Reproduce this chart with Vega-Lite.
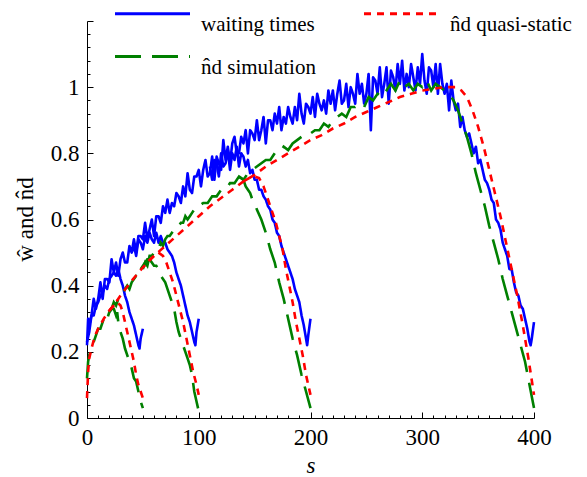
{
"$schema":"https://vega.github.io/schema/vega-lite/v6.json",
"width":447,"height":397,"autosize":"none",
"padding":{"left":87,"top":21,"right":53,"bottom":59},
"background":"white",
"config":{"view":{"stroke":null},
"axis":{"grid":false,"domainColor":"black","domainWidth":1,"tickColor":"black","tickWidth":1,"labelColor":"black","labelFont":"Liberation Serif","labelFontSize":23,"titleFont":"Liberation Serif","titleFontSize":23,"titleColor":"black","titleFontWeight":"normal","labelOverlap":false,"labelBound":false,"labelFlush":false},
"legend":{"orient":"none","legendX":49,"legendY":-24,"columns":2,"symbolType":"M-2.5,0H2.5","symbolSize":900,"symbolStrokeWidth":3,"labelFont":"Liberation Serif","labelFontSize":21,"labelColor":"black","labelOffset":32,"labelBaseline":"top","columnPadding":42,"rowPadding":5,"labelLimit":300,"padding":0}},
"datasets":{
"blue":[
{"s":0,"v":0.23,"r":400},{"s":2,"v":0.26,"r":400},{"s":4,"v":0.31,"r":400},{"s":6,"v":0.36,"r":400},{"s":8,"v":0.33,"r":400},{"s":10,"v":0.36,"r":400},{"s":12,"v":0.41,"r":400},{"s":14,"v":0.36,"r":400},{"s":16,"v":0.42,"r":400},{"s":18,"v":0.42,"r":400},{"s":20,"v":0.41,"r":400},{"s":22,"v":0.48,"r":400},{"s":24,"v":0.44,"r":400},{"s":26,"v":0.47,"r":400},{"s":28,"v":0.43,"r":400},{"s":30,"v":0.48,"r":400},{"s":32,"v":0.50,"r":400},{"s":34,"v":0.47,"r":400},{"s":36,"v":0.47,"r":400},{"s":38,"v":0.52,"r":400},{"s":40,"v":0.50,"r":400},{"s":42,"v":0.54,"r":400},{"s":44,"v":0.50,"r":400},{"s":46,"v":0.55,"r":400},{"s":48,"v":0.55,"r":400},{"s":50,"v":0.54,"r":400},{"s":52,"v":0.59,"r":400},{"s":54,"v":0.54,"r":400},{"s":56,"v":0.57,"r":400},{"s":58,"v":0.60,"r":400},{"s":60,"v":0.55,"r":400},{"s":62,"v":0.61,"r":400},{"s":64,"v":0.61,"r":400},{"s":66,"v":0.59,"r":400},{"s":68,"v":0.64,"r":400},{"s":70,"v":0.62,"r":400},{"s":72,"v":0.66,"r":400},{"s":74,"v":0.62,"r":400},{"s":76,"v":0.65,"r":400},{"s":78,"v":0.64,"r":400},{"s":80,"v":0.68,"r":400},{"s":82,"v":0.67,"r":400},{"s":84,"v":0.65,"r":400},{"s":86,"v":0.70,"r":400},{"s":88,"v":0.67,"r":400},{"s":90,"v":0.74,"r":400},{"s":92,"v":0.69,"r":400},{"s":94,"v":0.68,"r":400},{"s":96,"v":0.73,"r":400},{"s":98,"v":0.73,"r":400},{"s":100,"v":0.75,"r":400},{"s":102,"v":0.70,"r":400},{"s":104,"v":0.75,"r":400},{"s":106,"v":0.78,"r":400},{"s":108,"v":0.73,"r":400},{"s":110,"v":0.74,"r":400},{"s":112,"v":0.79,"r":400},{"s":114,"v":0.72,"r":400},{"s":116,"v":0.79,"r":400},{"s":118,"v":0.77,"r":400},{"s":120,"v":0.75,"r":400},{"s":122,"v":0.84,"r":400},{"s":124,"v":0.78,"r":400},{"s":126,"v":0.82,"r":400},{"s":128,"v":0.77,"r":400},{"s":130,"v":0.83,"r":400},{"s":132,"v":0.85,"r":400},{"s":134,"v":0.80,"r":400},{"s":136,"v":0.80,"r":400},{"s":138,"v":0.85,"r":400},{"s":140,"v":0.83,"r":400},{"s":142,"v":0.87,"r":400},{"s":144,"v":0.80,"r":400},{"s":146,"v":0.87,"r":400},{"s":148,"v":0.86,"r":400},{"s":150,"v":0.84,"r":400},{"s":152,"v":0.90,"r":400},{"s":154,"v":0.84,"r":400},{"s":156,"v":0.87,"r":400},{"s":158,"v":0.91,"r":400},{"s":160,"v":0.83,"r":400},{"s":162,"v":0.90,"r":400},{"s":164,"v":0.90,"r":400},{"s":166,"v":0.87,"r":400},{"s":168,"v":0.92,"r":400},{"s":170,"v":0.89,"r":400},{"s":172,"v":0.94,"r":400},{"s":174,"v":0.87,"r":400},{"s":176,"v":0.91,"r":400},{"s":178,"v":0.89,"r":400},{"s":180,"v":0.94,"r":400},{"s":182,"v":0.91,"r":400},{"s":184,"v":0.89,"r":400},{"s":186,"v":0.94,"r":400},{"s":188,"v":0.90,"r":400},{"s":190,"v":0.98,"r":400},{"s":192,"v":0.92,"r":400},{"s":194,"v":0.89,"r":400},{"s":196,"v":0.95,"r":400},{"s":198,"v":0.94,"r":400},{"s":200,"v":0.92,"r":400},{"s":202,"v":0.97,"r":400},{"s":204,"v":0.91,"r":400},{"s":206,"v":0.98,"r":400},{"s":208,"v":0.95,"r":400},{"s":210,"v":0.93,"r":400},{"s":212,"v":0.96,"r":400},{"s":214,"v":0.92,"r":400},{"s":216,"v":0.99,"r":400},{"s":218,"v":0.95,"r":400},{"s":220,"v":0.99,"r":400},{"s":222,"v":0.93,"r":400},{"s":224,"v":0.98,"r":400},{"s":226,"v":1.02,"r":400},{"s":228,"v":0.95,"r":400},{"s":230,"v":0.96,"r":400},{"s":232,"v":1.01,"r":400},{"s":234,"v":0.94,"r":400},{"s":236,"v":1.00,"r":400},{"s":238,"v":0.98,"r":400},{"s":240,"v":0.95,"r":400},{"s":242,"v":1.04,"r":400},{"s":244,"v":0.98,"r":400},{"s":246,"v":1.01,"r":400},{"s":248,"v":0.95,"r":400},{"s":250,"v":0.98,"r":400},{"s":252,"v":1.04,"r":400},{"s":254,"v":0.87,"r":400},{"s":256,"v":1.03,"r":400},{"s":258,"v":1.02,"r":400},{"s":260,"v":0.98,"r":400},{"s":262,"v":1.06,"r":400},{"s":264,"v":0.97,"r":400},{"s":266,"v":1.01,"r":400},{"s":268,"v":1.06,"r":400},{"s":270,"v":0.95,"r":400},{"s":272,"v":1.05,"r":400},{"s":274,"v":1.03,"r":400},{"s":276,"v":0.99,"r":400},{"s":278,"v":1.07,"r":400},{"s":280,"v":1.01,"r":400},{"s":282,"v":1.08,"r":400},{"s":284,"v":0.99,"r":400},{"s":286,"v":1.04,"r":400},{"s":288,"v":1.00,"r":400},{"s":290,"v":1.07,"r":400},{"s":292,"v":1.03,"r":400},{"s":294,"v":0.99,"r":400},{"s":296,"v":1.06,"r":400},{"s":298,"v":1.01,"r":400},{"s":300,"v":1.10,"r":400},{"s":302,"v":1.02,"r":400},{"s":304,"v":0.98,"r":400},{"s":306,"v":1.06,"r":400},{"s":308,"v":1.05,"r":400},{"s":310,"v":1.00,"r":400},{"s":312,"v":1.07,"r":400},{"s":314,"v":0.98,"r":400},{"s":316,"v":1.07,"r":400},{"s":318,"v":1.01,"r":400},{"s":320,"v":0.98,"r":400},{"s":322,"v":1.01,"r":400},{"s":324,"v":0.93,"r":400},{"s":326,"v":1.02,"r":400},{"s":328,"v":0.96,"r":400},{"s":330,"v":0.93,"r":400},{"s":332,"v":0.95,"r":400},{"s":334,"v":0.88,"r":400},{"s":336,"v":0.91,"r":400},{"s":338,"v":0.87,"r":400},{"s":340,"v":0.85,"r":400},{"s":342,"v":0.86,"r":400},{"s":344,"v":0.83,"r":400},{"s":346,"v":0.80,"r":400},{"s":348,"v":0.82,"r":400},{"s":350,"v":0.77,"r":400},{"s":352,"v":0.78,"r":400},{"s":354,"v":0.75,"r":400},{"s":356,"v":0.72,"r":400},{"s":358,"v":0.71,"r":400},{"s":360,"v":0.69,"r":400},{"s":362,"v":0.66,"r":400},{"s":364,"v":0.65,"r":400},{"s":366,"v":0.60,"r":400},{"s":368,"v":0.59,"r":400},{"s":370,"v":0.57,"r":400},{"s":372,"v":0.53,"r":400},{"s":374,"v":0.51,"r":400},{"s":376,"v":0.49,"r":400},{"s":378,"v":0.45,"r":400},{"s":380,"v":0.45,"r":400},{"s":382,"v":0.41,"r":400},{"s":384,"v":0.38,"r":400},{"s":386,"v":0.37,"r":400},{"s":388,"v":0.34,"r":400},{"s":390,"v":0.33,"r":400},{"s":392,"v":0.30,"r":400},{"s":394,"v":0.27,"r":400},{"s":396,"v":0.23,"r":400},{"s":397,"v":0.22,"r":400},{"s":398,"v":0.24,"r":400},{"s":400,"v":0.29,"r":400},
{"s":110,"v":0.76,"r":200},{"s":112,"v":0.72,"r":200},{"s":114,"v":0.78,"r":200},{"s":116,"v":0.77,"r":200},{"s":118,"v":0.73,"r":200},{"s":120,"v":0.80,"r":200},{"s":122,"v":0.76,"r":200},{"s":124,"v":0.77,"r":200},{"s":126,"v":0.81,"r":200},{"s":128,"v":0.75,"r":200},{"s":130,"v":0.80,"r":200},{"s":132,"v":0.78,"r":200},{"s":134,"v":0.82,"r":200},{"s":136,"v":0.76,"r":200},{"s":138,"v":0.80,"r":200},{"s":140,"v":0.79,"r":200},{"s":142,"v":0.76,"r":200},{"s":144,"v":0.78,"r":200},{"s":146,"v":0.74,"r":200},{"s":148,"v":0.75,"r":200},{"s":150,"v":0.72,"r":200},{"s":152,"v":0.72,"r":200},{"s":154,"v":0.69,"r":200},{"s":156,"v":0.69,"r":200},{"s":158,"v":0.67,"r":200},{"s":160,"v":0.66,"r":200},{"s":162,"v":0.64,"r":200},{"s":164,"v":0.63,"r":200},{"s":166,"v":0.60,"r":200},{"s":168,"v":0.59,"r":200},{"s":170,"v":0.56,"r":200},{"s":172,"v":0.55,"r":200},{"s":174,"v":0.52,"r":200},{"s":176,"v":0.50,"r":200},{"s":178,"v":0.48,"r":200},{"s":180,"v":0.46,"r":200},{"s":182,"v":0.44,"r":200},{"s":184,"v":0.42,"r":200},{"s":186,"v":0.39,"r":200},{"s":188,"v":0.37,"r":200},{"s":190,"v":0.35,"r":200},{"s":192,"v":0.31,"r":200},{"s":194,"v":0.28,"r":200},{"s":196,"v":0.24,"r":200},{"s":197,"v":0.22,"r":200},{"s":198,"v":0.25,"r":200},{"s":200,"v":0.30,"r":200},
{"s":40,"v":0.50,"r":100},{"s":42,"v":0.52,"r":100},{"s":44,"v":0.49,"r":100},{"s":46,"v":0.54,"r":100},{"s":48,"v":0.53,"r":100},{"s":50,"v":0.51,"r":100},{"s":52,"v":0.55,"r":100},{"s":54,"v":0.53,"r":100},{"s":56,"v":0.56,"r":100},{"s":58,"v":0.54,"r":100},{"s":60,"v":0.53,"r":100},{"s":62,"v":0.56,"r":100},{"s":64,"v":0.53,"r":100},{"s":66,"v":0.55,"r":100},{"s":68,"v":0.53,"r":100},{"s":70,"v":0.53,"r":100},{"s":72,"v":0.51,"r":100},{"s":74,"v":0.50,"r":100},{"s":76,"v":0.49,"r":100},{"s":78,"v":0.47,"r":100},{"s":80,"v":0.44,"r":100},{"s":82,"v":0.42,"r":100},{"s":84,"v":0.40,"r":100},{"s":86,"v":0.37,"r":100},{"s":88,"v":0.34,"r":100},{"s":90,"v":0.31,"r":100},{"s":92,"v":0.29,"r":100},{"s":94,"v":0.26,"r":100},{"s":96,"v":0.23,"r":100},{"s":97,"v":0.22,"r":100},{"s":98,"v":0.26,"r":100},{"s":100,"v":0.30,"r":100},
{"s":0,"v":0.22,"r":50},{"s":1,"v":0.30,"r":50},{"s":2,"v":0.28,"r":50},{"s":4,"v":0.31,"r":50},{"s":6,"v":0.31,"r":50},{"s":8,"v":0.34,"r":50},{"s":10,"v":0.35,"r":50},{"s":12,"v":0.37,"r":50},{"s":14,"v":0.38,"r":50},{"s":16,"v":0.40,"r":50},{"s":18,"v":0.39,"r":50},{"s":20,"v":0.42,"r":50},{"s":22,"v":0.43,"r":50},{"s":24,"v":0.44,"r":50},{"s":26,"v":0.43,"r":50},{"s":28,"v":0.45,"r":50},{"s":30,"v":0.42,"r":50},{"s":32,"v":0.40,"r":50},{"s":34,"v":0.37,"r":50},{"s":36,"v":0.35,"r":50},{"s":38,"v":0.32,"r":50},{"s":40,"v":0.30,"r":50},{"s":42,"v":0.28,"r":50},{"s":44,"v":0.25,"r":50},{"s":46,"v":0.22,"r":50},{"s":47,"v":0.21,"r":50},{"s":48,"v":0.24,"r":50},{"s":50,"v":0.27,"r":50}
],
"green":[
{"s":0,"v":0.12,"r":400},{"s":1,"v":0.17,"r":400},{"s":2,"v":0.19,"r":400},{"s":4,"v":0.21,"r":400},{"s":6,"v":0.23,"r":400},{"s":8,"v":0.25,"r":400},{"s":10,"v":0.27,"r":400},{"s":12,"v":0.27,"r":400},{"s":14,"v":0.29,"r":400},{"s":16,"v":0.31,"r":400},{"s":18,"v":0.30,"r":400},{"s":20,"v":0.32,"r":400},{"s":22,"v":0.33,"r":400},{"s":24,"v":0.35,"r":400},{"s":26,"v":0.34,"r":400},{"s":28,"v":0.36,"r":400},{"s":30,"v":0.37,"r":400},{"s":32,"v":0.37,"r":400},{"s":34,"v":0.39,"r":400},{"s":36,"v":0.40,"r":400},{"s":38,"v":0.39,"r":400},{"s":40,"v":0.41,"r":400},{"s":42,"v":0.42,"r":400},{"s":44,"v":0.43,"r":400},{"s":46,"v":0.43,"r":400},{"s":48,"v":0.45,"r":400},{"s":50,"v":0.45,"r":400},{"s":52,"v":0.47,"r":400},{"s":54,"v":0.46,"r":400},{"s":56,"v":0.49,"r":400},{"s":58,"v":0.49,"r":400},{"s":60,"v":0.50,"r":400},{"s":62,"v":0.51,"r":400},{"s":64,"v":0.51,"r":400},{"s":66,"v":0.53,"r":400},{"s":68,"v":0.52,"r":400},{"s":70,"v":0.54,"r":400},{"s":72,"v":0.55,"r":400},{"s":74,"v":0.55,"r":400},{"s":76,"v":0.56,"r":400},{"s":78,"v":0.57,"r":400},{"s":80,"v":0.57,"r":400},{"s":82,"v":0.58,"r":400},{"s":84,"v":0.59,"r":400},{"s":86,"v":0.59,"r":400},{"s":88,"v":0.61,"r":400},{"s":90,"v":0.60,"r":400},{"s":92,"v":0.61,"r":400},{"s":94,"v":0.62,"r":400},{"s":96,"v":0.63,"r":400},{"s":98,"v":0.63,"r":400},{"s":100,"v":0.64,"r":400},{"s":104,"v":0.65,"r":400},{"s":108,"v":0.65,"r":400},{"s":112,"v":0.67,"r":400},{"s":116,"v":0.67,"r":400},{"s":120,"v":0.69,"r":400},{"s":124,"v":0.69,"r":400},{"s":128,"v":0.71,"r":400},{"s":132,"v":0.71,"r":400},{"s":136,"v":0.73,"r":400},{"s":140,"v":0.72,"r":400},{"s":144,"v":0.74,"r":400},{"s":148,"v":0.75,"r":400},{"s":152,"v":0.76,"r":400},{"s":156,"v":0.77,"r":400},{"s":160,"v":0.78,"r":400},{"s":164,"v":0.78,"r":400},{"s":168,"v":0.80,"r":400},{"s":172,"v":0.80,"r":400},{"s":176,"v":0.82,"r":400},{"s":180,"v":0.81,"r":400},{"s":184,"v":0.83,"r":400},{"s":188,"v":0.84,"r":400},{"s":192,"v":0.85,"r":400},{"s":196,"v":0.85,"r":400},{"s":200,"v":0.86,"r":400},{"s":204,"v":0.87,"r":400},{"s":208,"v":0.87,"r":400},{"s":212,"v":0.89,"r":400},{"s":216,"v":0.88,"r":400},{"s":220,"v":0.90,"r":400},{"s":224,"v":0.91,"r":400},{"s":228,"v":0.92,"r":400},{"s":232,"v":0.91,"r":400},{"s":236,"v":0.94,"r":400},{"s":240,"v":0.94,"r":400},{"s":244,"v":0.95,"r":400},{"s":248,"v":0.94,"r":400},{"s":252,"v":0.97,"r":400},{"s":256,"v":0.96,"r":400},{"s":260,"v":0.98,"r":400},{"s":264,"v":0.97,"r":400},{"s":268,"v":0.99,"r":400},{"s":272,"v":1.01,"r":400},{"s":276,"v":0.99,"r":400},{"s":280,"v":1.02,"r":400},{"s":284,"v":1.00,"r":400},{"s":288,"v":1.01,"r":400},{"s":292,"v":0.99,"r":400},{"s":296,"v":1.01,"r":400},{"s":300,"v":1.00,"r":400},{"s":304,"v":1.02,"r":400},{"s":308,"v":0.99,"r":400},{"s":312,"v":1.01,"r":400},{"s":316,"v":1.00,"r":400},{"s":320,"v":0.99,"r":400},{"s":324,"v":0.98,"r":400},{"s":328,"v":0.96,"r":400},{"s":332,"v":0.93,"r":400},{"s":336,"v":0.89,"r":400},{"s":340,"v":0.85,"r":400},{"s":344,"v":0.80,"r":400},{"s":348,"v":0.74,"r":400},{"s":352,"v":0.69,"r":400},{"s":356,"v":0.64,"r":400},{"s":360,"v":0.58,"r":400},{"s":364,"v":0.53,"r":400},{"s":368,"v":0.48,"r":400},{"s":372,"v":0.42,"r":400},{"s":376,"v":0.37,"r":400},{"s":380,"v":0.32,"r":400},{"s":384,"v":0.27,"r":400},{"s":388,"v":0.22,"r":400},{"s":392,"v":0.17,"r":400},{"s":396,"v":0.10,"r":400},{"s":400,"v":0.03,"r":400},
{"s":136,"v":0.73,"r":200},{"s":140,"v":0.72,"r":200},{"s":142,"v":0.70,"r":200},{"s":144,"v":0.69,"r":200},{"s":146,"v":0.68,"r":200},{"s":148,"v":0.66,"r":200},{"s":150,"v":0.65,"r":200},{"s":152,"v":0.63,"r":200},{"s":156,"v":0.60,"r":200},{"s":160,"v":0.56,"r":200},{"s":164,"v":0.51,"r":200},{"s":168,"v":0.47,"r":200},{"s":172,"v":0.41,"r":200},{"s":176,"v":0.36,"r":200},{"s":180,"v":0.30,"r":200},{"s":184,"v":0.24,"r":200},{"s":188,"v":0.19,"r":200},{"s":192,"v":0.13,"r":200},{"s":196,"v":0.08,"r":200},{"s":200,"v":0.03,"r":200},
{"s":48,"v":0.45,"r":100},{"s":52,"v":0.47,"r":100},{"s":54,"v":0.48,"r":100},{"s":56,"v":0.48,"r":100},{"s":58,"v":0.47,"r":100},{"s":60,"v":0.46,"r":100},{"s":62,"v":0.46,"r":100},{"s":64,"v":0.45,"r":100},{"s":66,"v":0.43,"r":100},{"s":68,"v":0.42,"r":100},{"s":70,"v":0.41,"r":100},{"s":74,"v":0.37,"r":100},{"s":78,"v":0.33,"r":100},{"s":80,"v":0.29,"r":100},{"s":82,"v":0.26,"r":100},{"s":86,"v":0.22,"r":100},{"s":88,"v":0.20,"r":100},{"s":90,"v":0.18,"r":100},{"s":92,"v":0.16,"r":100},{"s":94,"v":0.13,"r":100},{"s":96,"v":0.08,"r":100},{"s":98,"v":0.05,"r":100},{"s":100,"v":0.02,"r":100},
{"s":20,"v":0.32,"r":50},{"s":22,"v":0.33,"r":50},{"s":24,"v":0.33,"r":50},{"s":26,"v":0.31,"r":50},{"s":27,"v":0.32,"r":50},{"s":28,"v":0.29,"r":50},{"s":30,"v":0.26,"r":50},{"s":32,"v":0.24,"r":50},{"s":34,"v":0.21,"r":50},{"s":36,"v":0.19,"r":50},{"s":38,"v":0.17,"r":50},{"s":40,"v":0.15,"r":50},{"s":42,"v":0.12,"r":50},{"s":44,"v":0.11,"r":50},{"s":46,"v":0.08,"r":50},{"s":48,"v":0.05,"r":50},{"s":50,"v":0.03,"r":50}
],
"red":[
{"s":0,"v":0.06,"r":400},{"s":1,"v":0.14,"r":400},{"s":2,"v":0.18,"r":400},{"s":4,"v":0.21,"r":400},{"s":6,"v":0.235,"r":400},{"s":8,"v":0.255,"r":400},{"s":10,"v":0.27,"r":400},{"s":15,"v":0.30,"r":400},{"s":20,"v":0.325,"r":400},{"s":25,"v":0.345,"r":400},{"s":30,"v":0.37,"r":400},{"s":40,"v":0.415,"r":400},{"s":50,"v":0.455,"r":400},{"s":60,"v":0.49,"r":400},{"s":70,"v":0.52,"r":400},{"s":80,"v":0.55,"r":400},{"s":90,"v":0.58,"r":400},{"s":100,"v":0.61,"r":400},{"s":110,"v":0.64,"r":400},{"s":120,"v":0.665,"r":400},{"s":130,"v":0.69,"r":400},{"s":140,"v":0.715,"r":400},{"s":150,"v":0.735,"r":400},{"s":160,"v":0.76,"r":400},{"s":170,"v":0.78,"r":400},{"s":180,"v":0.80,"r":400},{"s":190,"v":0.82,"r":400},{"s":200,"v":0.84,"r":400},{"s":210,"v":0.855,"r":400},{"s":220,"v":0.875,"r":400},{"s":230,"v":0.89,"r":400},{"s":240,"v":0.91,"r":400},{"s":250,"v":0.925,"r":400},{"s":260,"v":0.94,"r":400},{"s":270,"v":0.955,"r":400},{"s":280,"v":0.97,"r":400},{"s":290,"v":0.98,"r":400},{"s":300,"v":0.99,"r":400},{"s":310,"v":0.995,"r":400},{"s":320,"v":1.0,"r":400},{"s":330,"v":1.0,"r":400},{"s":335,"v":0.99,"r":400},{"s":340,"v":0.97,"r":400},{"s":345,"v":0.93,"r":400},{"s":350,"v":0.88,"r":400},{"s":355,"v":0.82,"r":400},{"s":360,"v":0.75,"r":400},{"s":365,"v":0.68,"r":400},{"s":370,"v":0.61,"r":400},{"s":375,"v":0.53,"r":400},{"s":380,"v":0.45,"r":400},{"s":385,"v":0.37,"r":400},{"s":390,"v":0.28,"r":400},{"s":395,"v":0.18,"r":400},{"s":400,"v":0.07,"r":400},
{"s":140,"v":0.715,"r":200},{"s":145,"v":0.725,"r":200},{"s":150,"v":0.73,"r":200},{"s":154,"v":0.725,"r":200},{"s":158,"v":0.70,"r":200},{"s":160,"v":0.68,"r":200},{"s":163,"v":0.65,"r":200},{"s":166,"v":0.62,"r":200},{"s":169,"v":0.59,"r":200},{"s":172,"v":0.55,"r":200},{"s":175,"v":0.51,"r":200},{"s":178,"v":0.45,"r":200},{"s":181,"v":0.40,"r":200},{"s":184,"v":0.35,"r":200},{"s":187,"v":0.29,"r":200},{"s":190,"v":0.24,"r":200},{"s":193,"v":0.19,"r":200},{"s":196,"v":0.13,"r":200},{"s":198,"v":0.10,"r":200},{"s":200,"v":0.07,"r":200},
{"s":55,"v":0.475,"r":100},{"s":60,"v":0.49,"r":100},{"s":64,"v":0.50,"r":100},{"s":68,"v":0.49,"r":100},{"s":71,"v":0.47,"r":100},{"s":74,"v":0.44,"r":100},{"s":77,"v":0.41,"r":100},{"s":80,"v":0.37,"r":100},{"s":83,"v":0.33,"r":100},{"s":86,"v":0.29,"r":100},{"s":89,"v":0.24,"r":100},{"s":92,"v":0.19,"r":100},{"s":95,"v":0.14,"r":100},{"s":98,"v":0.10,"r":100},{"s":100,"v":0.07,"r":100},
{"s":20,"v":0.325,"r":50},{"s":24,"v":0.34,"r":50},{"s":27,"v":0.35,"r":50},{"s":30,"v":0.34,"r":50},{"s":32,"v":0.32,"r":50},{"s":34,"v":0.29,"r":50},{"s":36,"v":0.26,"r":50},{"s":38,"v":0.23,"r":50},{"s":40,"v":0.20,"r":50},{"s":42,"v":0.17,"r":50},{"s":44,"v":0.13,"r":50},{"s":46,"v":0.10,"r":50},{"s":48,"v":0.08,"r":50},{"s":50,"v":0.06,"r":50}
]},
"encoding":{
"x":{"field":"s","type":"quantitative","scale":{"domain":[0,400],"nice":false},
"axis":{"title":"s","titleFontStyle":"italic","values":[0,10,20,30,40,50,60,70,80,90,100,110,120,130,140,150,160,170,180,190,200,210,220,230,240,250,260,270,280,290,300,310,320,330,340,350,360,370,380,390,400],
"labelExpr":"datum.value % 100 === 0 ? format(datum.value, 'd') : ''",
"tickSize":{"condition":{"test":"datum.value % 100 === 0","value":-6},"value":-3},"labelPadding":14,"titleY":54,"titleBaseline":"alphabetic"}},
"y":{"field":"v","type":"quantitative","scale":{"domain":[0,1.2],"nice":false,"zero":false},
"axis":{"title":"ŵ and n̂d","values":[0,0.04,0.08,0.12,0.16,0.2,0.24,0.28,0.32,0.36,0.4,0.44,0.48,0.52,0.56,0.6,0.64,0.68,0.72,0.76,0.8,0.84,0.88,0.92,0.96,1,1.04,1.08,1.12,1.16,1.2],
"labelExpr":"(abs(datum.value*5 - round(datum.value*5)) < 0.001 && datum.value < 1.01) ? format(datum.value, '~g') : ''",
"tickSize":{"condition":{"test":"abs(datum.value*5 - round(datum.value*5)) < 0.001","value":-6},"value":-3},"labelPadding":14,"titleX":-62,"titleY":198,"titleAngle":270,"titleAlign":"center","titleBaseline":"middle"}},
"detail":{"field":"r","type":"nominal"}
},
"layer":[
{"data":{"name":"blue"},"mark":{"type":"line","strokeWidth":2.6,"strokeJoin":"round"},
"encoding":{"color":{"datum":"waiting times","type":"nominal","scale":{"domain":["waiting times","n̂d simulation","n̂d quasi-static"],"range":["#0000ff","#008000","#ff0000"]},"legend":{"title":null}},
"strokeDash":{"datum":"waiting times","type":"nominal","scale":{"domain":["waiting times","n̂d simulation","n̂d quasi-static"],"range":[[1,0],[26,11],[7,6]]},"legend":{"title":null}}}},
{"data":{"name":"green"},"mark":{"type":"line","strokeWidth":2.6},
"encoding":{"color":{"datum":"n̂d simulation","type":"nominal"},"strokeDash":{"datum":"n̂d simulation","type":"nominal"}}},
{"data":{"name":"red"},"mark":{"type":"line","strokeWidth":2.6},
"encoding":{"color":{"datum":"n̂d quasi-static","type":"nominal"},"strokeDash":{"datum":"n̂d quasi-static","type":"nominal"}}}
]
}
